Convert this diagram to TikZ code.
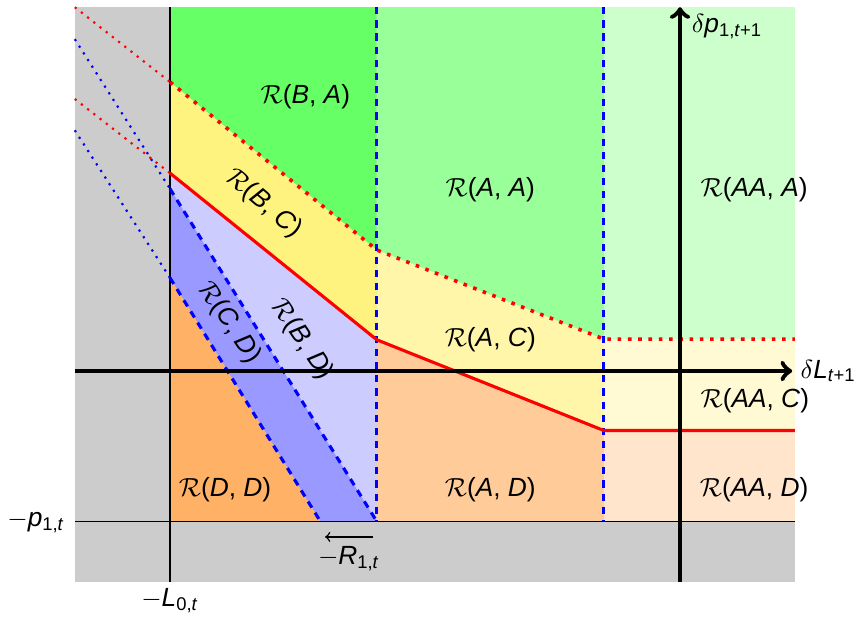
\documentclass[tikz,border=0pt]{standalone}
\usepackage{amsmath,amssymb}
\usepackage{fontspec}
\setmainfont{Liberation Sans}
\usepackage{tikz}
\usepackage{xcolor}

\definecolor{yellowBC}{RGB}{255,243,128}
\definecolor{yellowAC}{RGB}{255,246,170}
\definecolor{yellowAAC}{RGB}{255,250,212}

\newcommand{\regname}[2]{$\mathcal{R}$(\textit{#1}, \textit{#2})}

\begin{document}
\begin{tikzpicture}[
    every node/.style={font=\fontsize{11}{13}\selectfont},
    axisline/.style={line width=2pt,->},
    redsolid/.style={red,line width=1.3pt},
    reddots/.style={red,line width=1.5pt,dash pattern=on 1.5pt off 2.8pt},
    bluedash/.style={blue,line width=1.3pt,dash pattern=on 3pt off 2.5pt},
    extdots/.style={line width=0.9pt,dash pattern=on 0.9pt off 2.4pt}
]
    \useasboundingbox (-10,-3.62) rectangle (2.72,5.456);

    % corner points of the regions
    \coordinate (tL) at (-7.5,5.35);
    \coordinate (tB) at (-4.46,5.35);
    \coordinate (tC) at (-1.12,5.35);
    \coordinate (tR) at (1.69,5.35);
    \coordinate (d0) at (-7.5,4.25);
    \coordinate (d1) at (-4.46,1.78);
    \coordinate (d2) at (-1.12,0.47);
    \coordinate (d3) at (1.69,0.47);
    \coordinate (s0) at (-7.5,2.91);
    \coordinate (s1) at (-4.46,0.46);
    \coordinate (s2) at (-1.12,-0.875);
    \coordinate (s3) at (1.69,-0.875);
    \coordinate (u0) at (-7.5,2.68);
    \coordinate (u1) at (-4.46,-2.21);
    \coordinate (l0) at (-7.5,1.37);
    \coordinate (l1) at (-5.29,-2.21);
    \coordinate (pA) at (-7.5,-2.21);
    \coordinate (pC) at (-1.12,-2.21);
    \coordinate (pR) at (1.69,-2.21);

    % background
    \fill[gray!40] (-8.9,-3.1) rectangle (1.69,5.35);

    % top row
    \fill[green!60] (tL) -- (tB) -- (d1) -- (d0) -- cycle;
    \fill[green!40] (tB) -- (tC) -- (d2) -- (d1) -- cycle;
    \fill[green!20] (tC) -- (tR) -- (d3) -- (d2) -- cycle;
    % middle row
    \fill[yellowBC] (d0) -- (d1) -- (s1) -- (s0) -- cycle;
    \fill[yellowAC] (d1) -- (d2) -- (s2) -- (s1) -- cycle;
    \fill[yellowAAC] (d2) -- (d3) -- (s3) -- (s2) -- cycle;
    \fill[blue!20] (s0) -- (s1) -- (u1) -- (u0) -- cycle;
    \fill[blue!40] (u0) -- (u1) -- (l1) -- (l0) -- cycle;
    % bottom row
    \fill[orange!60] (l0) -- (l1) -- (pA) -- cycle;
    \fill[orange!40] (s1) -- (s2) -- (pC) -- (u1) -- cycle;
    \fill[orange!20] (s2) -- (s3) -- (pR) -- (pC) -- cycle;

    % thin bounds
    \draw[semithick] (tL) -- (-7.5,-3.1);
    \draw[semithick] (-8.9,-2.21) -- (pR);

    % extensions to the left
    \draw[extdots,red] (-8.9,5.35) -- (d0);
    \draw[extdots,red] (-8.9,4.0) -- (s0);
    \draw[extdots,blue] (-8.9,4.88) -- (u0);
    \draw[extdots,blue] (-8.9,3.54) -- (l0);

    % boundaries
    \draw[bluedash] (tB) -- (u1);
    \draw[bluedash] (tC) -- (pC);
    \draw[bluedash] (u0) -- (u1);
    \draw[bluedash] (l0) -- (l1);
    \draw[reddots] (d0) -- (d1) -- (d2) -- (d3);
    \draw[redsolid] (s0) -- (s1) -- (s2) -- (s3);

    % axes
    \draw[axisline] (-8.9,0) -- (1.65,0);
    \draw[axisline] (0,-3.1) -- (0,5.35);
    \node[right] (xlab) at (1.65,0) {$\delta$\textit{L}$_{\text{\textit{t}+1}}$};
    \node[right] (ylab) at (0.05,5.06) {$\delta$\textit{p}$_{\text{1,\textit{t}+1}}$};

    \node (plab) at (-9.47,-2.22) {$-$\textit{p}$_{\text{1,\textit{t}}}$};
    \node (llab) at (-7.5,-3.38) {$-$\textit{L}$_{\text{0,\textit{t}}}$};
    \coordinate (rgo) at (-4.51,-2.44);
    \coordinate (rend) at (-5.22,-2.44);
    \draw[semithick,->] (rgo) -- (rend);
    \node (rlab) at (-4.87,-2.76) {$-$\textit{R}$_{\text{1,\textit{t}}}$};

    % region names
    \node (nBA) at (-5.51,4.03) {\regname{B}{A}};
    \node (nAA) at (-2.79,2.66) {\regname{A}{A}};
    \node (nAAA) at (1.09,2.66) {\regname{AA}{A}};
    \node[rotate=-40] (nBC) at (-6.12,2.46) {\regname{B}{C}};
    \node[rotate=-56] (nCD) at (-6.63,0.71) {\regname{C}{D}};
    \node[rotate=-56] (nBD) at (-5.56,0.46) {\regname{B}{D}};
    \node (nAC) at (-2.79,0.46) {\regname{A}{C}};
    \node (nAAC) at (1.10,-0.43) {\regname{AA}{C}};
    \node (nDD) at (-6.69,-1.75) {\regname{D}{D}};
    \node (nAD) at (-2.79,-1.75) {\regname{A}{D}};
    \node (nAAD) at (1.09,-1.75) {\regname{AA}{D}};
\end{tikzpicture}
\end{document}
